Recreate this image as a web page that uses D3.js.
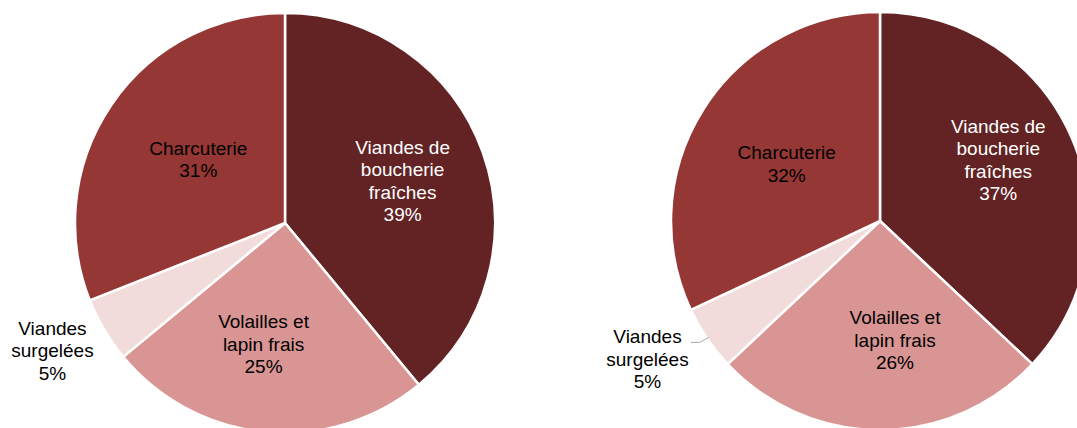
<!DOCTYPE html>
<html>
<head>
<meta charset="utf-8">
<script src="https://cdn.jsdelivr.net/npm/d3@7"></script>
<style>
  html, body { margin: 0; padding: 0; background: #fff; }
  svg { display: block; }
  text { font-family: "Liberation Sans", Arial, sans-serif; font-size: 19px; }
</style>
</head>
<body>
<div id="container"></div>
<script>
// categories, clockwise from 12 o'clock
var categories = [
  ['Viandes de', 'boucherie', 'fraîches'],
  ['Volailles et', 'lapin frais'],
  ['Viandes', 'surgelées'],
  ['Charcuterie']
];
var leftValues = [39, 25, 5, 31];
var rightValues = [37, 26, 5, 32];
var sliceColors = ['#632324', '#d99594', '#f2dcdb', '#953735'];
var labelColors = ['#ffffff', '#000000', '#000000', '#000000'];

// small hand nudges so labels sit where the original placed them
var leftNudge = [[3, -1], [-10, 0], [-3, -8], [14, 5]];
var rightNudge = [[7, -13], [15, -2], [-13, -11], [9, 8]];

var width = 1077, height = 428;

var svg = d3.select('#container').append('svg')
  .attr('width', width)
  .attr('height', height);

var pie = d3.pie().sort(null).value(function(d) { return d; });

var drawPie = function(values, cx, cy, r, nudge, leader) {
  var g = svg.append('g').attr('transform', 'translate(' + cx + ',' + cy + ')');
  var arcs = pie(values);
  var arc = d3.arc().innerRadius(0).outerRadius(r);
  var labelArc = d3.arc().innerRadius(r * 0.58).outerRadius(r * 0.58);
  var outerArc = d3.arc().innerRadius(r * 1.27).outerRadius(r * 1.27);

  g.selectAll('path.slice')
    .data(arcs)
    .enter()
    .append('path')
    .attr('class', 'slice')
    .attr('d', arc)
    .attr('fill', function(d, i) { return sliceColors[i]; })
    .attr('stroke', '#fff')
    .attr('stroke-width', 2.5)
    .attr('stroke-linejoin', 'round');

  var lineH = 22.5;
  arcs.forEach(function(d, i) {
    var outside = values[i] < 10;
    var c = outside ? outerArc.centroid(d) : labelArc.centroid(d);
    var pos = [c[0] + nudge[i][0], c[1] + nudge[i][1]];
    var lines = categories[i].concat([values[i] + '%']);
    var t = g.append('text')
      .attr('text-anchor', 'middle')
      .attr('fill', labelColors[i]);
    lines.forEach(function(s, k) {
      t.append('tspan')
        .attr('x', pos[0])
        .attr('y', pos[1] + (k - (lines.length - 1) / 2) * lineH)
        .attr('dy', '0.35em')
        .text(s);
    });
    if (outside && leader) {
      var a = (d.startAngle + d.endAngle) / 2;
      var p1 = [Math.sin(a) * (r - 2), -Math.cos(a) * (r - 2)];
      var p2 = [p1[0] - 9, p1[1] + 5];
      var p3 = [p2[0] - 9, p2[1]];
      g.append('polyline')
        .attr('points', [p1, p2, p3].map(function(p) { return p.join(','); }).join(' '))
        .attr('fill', 'none')
        .attr('stroke', '#a6a6a6')
        .attr('stroke-width', 1);
    }
  });
};

drawPie(leftValues, 285, 223, 210, leftNudge, false);
drawPie(rightValues, 880, 221, 209, rightNudge, true);
</script>
</body>
</html>
